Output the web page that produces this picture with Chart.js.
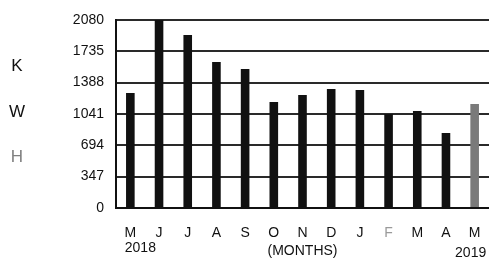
<!DOCTYPE html>
<html>
<head>
<meta charset="utf-8">
<script src="https://cdn.jsdelivr.net/npm/chart.js@4"></script>
<style>
    body { margin: 0; background: #fff; }
    canvas { display: block; }
</style>
</head>
<body>
<canvas id="kwhChart" width="489" height="261"></canvas>
<script>
const months = ["M", "J", "J", "A", "S", "O", "N", "D", "J", "F", "M", "A", "M"];
const kwh = [1272, 2080, 1914, 1615, 1538, 1173, 1250, 1317, 1306, 1040, 1073, 830, 1151];
const yTicks = [0, 347, 694, 1041, 1388, 1735, 2080];
const unitLetters = ["K", "W", "H"];

const barColors = kwh.map((v, i) => (i === kwh.length - 1 ? "#7a7a7a" : "#111111"));
const labelColors = months.map((m, i) => (i === 9 ? "#9a9a9a" : "#111111"));

// extra text below the month labels and the KWH letters on the left
const extraText = {
    id: "extraText",
    afterDraw(chart) {
        const ctx = chart.ctx;
        const x = chart.scales.x;
        ctx.save();
        ctx.fillStyle = "#111";
        ctx.textAlign = "center";
        ctx.textBaseline = "middle";
        ctx.font = "14px 'Liberation Sans', Arial, sans-serif";
        ctx.fillText("2018", x.getPixelForValue(0) + 10, 248);
        ctx.fillText("(MONTHS)", x.getPixelForValue(6), 251);
        ctx.fillText("2019", x.getPixelForValue(12) - 4, 253);

        ctx.font = "17px 'Liberation Sans', Arial, sans-serif";
        const ys = [66, 112, 157];
        unitLetters.forEach((l, i) => {
            ctx.fillStyle = i === 2 ? "#808080" : "#111";
            ctx.fillText(l, 17, ys[i]);
        });
        ctx.restore();
    },
};

new Chart(document.getElementById("kwhChart"), {
    type: "bar",
    data: {
        labels: months,
        datasets: [
            {
                label: "KWH",
                data: kwh,
                backgroundColor: barColors,
                borderWidth: 0,
                barPercentage: 0.3,
                categoryPercentage: 1,
            },
        ],
    },
    options: {
        responsive: false,
        animation: false,
        layout: {
            padding: { top: 20, right: 0, bottom: 0, left: 0 },
        },
        plugins: {
            legend: { display: false },
            tooltip: { enabled: false },
        },
        scales: {
            x: {
                grid: { display: false, drawTicks: false },
                border: { color: "#111", width: 2 },
                ticks: {
                    color: labelColors,
                    padding: 17,
                    maxRotation: 0,
                    autoSkip: false,
                    font: { size: 14, family: "'Liberation Sans', Arial, sans-serif" },
                },
                afterFit(scale) {
                    scale.height = 53;
                    scale.paddingLeft = 0;
                    scale.paddingRight = 0;
                },
            },
            y: {
                min: 0,
                max: 2080,
                afterBuildTicks(scale) {
                    scale.ticks = yTicks.map((v) => ({ value: v }));
                },
                afterFit(scale) {
                    scale.width = 116;
                    scale.paddingTop = 0;
                    scale.paddingBottom = 0;
                },
                grid: { color: "#2a2a2a", lineWidth: 2, drawTicks: false },
                border: { color: "#111", width: 2 },
                ticks: {
                    color: "#111",
                    padding: 12,
                    callback: (v) => String(v),
                    font: { size: 14, family: "'Liberation Sans', Arial, sans-serif" },
                },
            },
        },
    },
    plugins: [extraText],
});
</script>
</body>
</html>
